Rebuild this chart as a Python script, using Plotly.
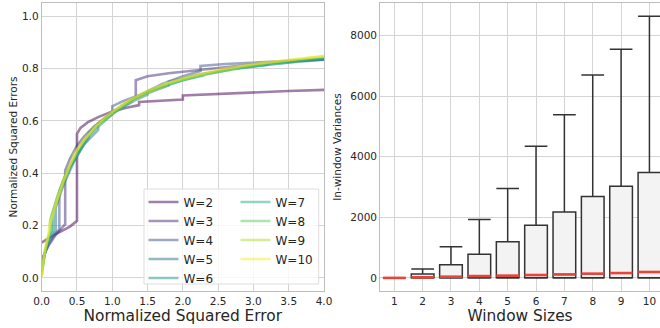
import plotly.graph_objects as go

# ---------------- data ----------------
# Left panel: cumulative curves per window size
window_labels = ["W=2", "W=3", "W=4", "W=5", "W=6", "W=7", "W=8", "W=9", "W=10"]

x_w2 = [0, 0.05, 0.1, 0.2, 0.3, 0.4, 0.5, 0.5, 0.55, 0.65, 0.8, 1.0, 1.2, 1.38, 1.38, 1.6, 2.0, 2.0, 2.5, 3.0, 3.5, 4.0]
y_w2 = [0.135, 0.145, 0.152, 0.167, 0.181, 0.196, 0.218, 0.55, 0.573, 0.594, 0.614, 0.636, 0.65, 0.66, 0.672, 0.676, 0.681, 0.697, 0.703, 0.709, 0.714, 0.718]

x_w3 = [0, 0.05, 0.1, 0.2, 0.333, 0.333, 0.4, 0.5, 0.6, 0.75, 1.0, 1.2, 1.333, 1.333, 1.5, 1.8, 2.0, 2.3, 2.7, 3.0, 3.5, 4.0]
y_w3 = [0.07, 0.1, 0.125, 0.165, 0.205, 0.41, 0.455, 0.505, 0.54, 0.58, 0.63, 0.665, 0.69, 0.755, 0.77, 0.782, 0.788, 0.797, 0.808, 0.816, 0.826, 0.834]

x_w4 = [0, 0.05, 0.1, 0.18, 0.25, 0.25, 0.35, 0.5, 0.65, 0.8, 1.0, 1.0, 1.15, 1.4, 1.7, 2.0, 2.25, 2.25, 2.6, 3.0, 3.5, 4.0]
y_w4 = [0.06, 0.1, 0.13, 0.165, 0.185, 0.33, 0.4, 0.475, 0.54, 0.585, 0.625, 0.655, 0.675, 0.7, 0.74, 0.77, 0.79, 0.81, 0.817, 0.822, 0.829, 0.835]

x_w5 = [0, 0.05, 0.1, 0.2, 0.2, 0.3, 0.45, 0.6, 0.8, 0.8, 1.0, 1.25, 1.5, 1.8, 1.8, 2.2, 2.6, 3.2, 3.2, 3.6, 4.0]
y_w5 = [0.04, 0.1, 0.14, 0.18, 0.27, 0.35, 0.44, 0.51, 0.565, 0.59, 0.635, 0.675, 0.705, 0.735, 0.75, 0.775, 0.795, 0.815, 0.822, 0.829, 0.835]

x_w6 = [0, 0.05, 0.1, 0.167, 0.167, 0.25, 0.4, 0.55, 0.667, 0.667, 0.85, 1.1, 1.3, 1.5, 1.5, 1.8, 2.2, 2.667, 2.667, 3.2, 3.6, 4.0]
y_w6 = [0.03, 0.1, 0.15, 0.18, 0.25, 0.32, 0.42, 0.49, 0.535, 0.555, 0.6, 0.645, 0.675, 0.7, 0.712, 0.74, 0.77, 0.795, 0.8, 0.815, 0.825, 0.833]

x_w7 = [0, 0.05, 0.1, 0.143, 0.143, 0.22, 0.35, 0.5, 0.571, 0.571, 0.75, 1.0, 1.286, 1.286, 1.6, 2.0, 2.286, 2.286, 2.8, 3.3, 3.571, 3.571, 4.0]
y_w7 = [0.02, 0.1, 0.155, 0.18, 0.24, 0.31, 0.4, 0.47, 0.5, 0.515, 0.565, 0.625, 0.675, 0.685, 0.72, 0.755, 0.772, 0.778, 0.8, 0.817, 0.825, 0.828, 0.838]

x_w8 = [0, 0.04, 0.08, 0.125, 0.125, 0.2, 0.3, 0.42, 0.5, 0.5, 0.7, 0.9, 1.125, 1.125, 1.4, 1.7, 2.0, 2.0, 2.5, 3.125, 3.125, 3.6, 4.0]
y_w8 = [0.01, 0.09, 0.14, 0.18, 0.225, 0.29, 0.37, 0.44, 0.475, 0.49, 0.56, 0.61, 0.65, 0.658, 0.7, 0.735, 0.758, 0.763, 0.79, 0.815, 0.818, 0.831, 0.842]

x_w9 = [0, 0.03, 0.07, 0.111, 0.111, 0.2, 0.3, 0.444, 0.444, 0.6, 0.8, 1.0, 1.0, 1.3, 1.6, 1.778, 1.778, 2.2, 2.778, 2.778, 3.3, 4.0]
y_w9 = [0.005, 0.08, 0.14, 0.18, 0.21, 0.29, 0.37, 0.46, 0.47, 0.53, 0.585, 0.628, 0.634, 0.68, 0.718, 0.738, 0.742, 0.772, 0.803, 0.806, 0.825, 0.846]

x_w10 = [0, 0.02, 0.05, 0.1, 0.1, 0.15, 0.2, 0.3, 0.4, 0.5, 0.6, 0.75, 0.9, 1.0, 1.25, 1.5, 1.75, 2.0, 2.5, 3.0, 3.5, 4.0]
y_w10 = [0, 0.06, 0.11, 0.165, 0.185, 0.235, 0.28, 0.36, 0.43, 0.485, 0.525, 0.575, 0.615, 0.635, 0.68, 0.715, 0.742, 0.763, 0.795, 0.817, 0.833, 0.848]

curve_x = [x_w2, x_w3, x_w4, x_w5, x_w6, x_w7, x_w8, x_w9, x_w10]
curve_y = [y_w2, y_w3, y_w4, y_w5, y_w6, y_w7, y_w8, y_w9, y_w10]

# Right panel: box statistics of in-window variances
window_sizes = [1, 2, 3, 4, 5, 6, 7, 8, 9, 10]
box_lower = [0, 0, 0, 0, 0, 0, 0, 0, 0, 0]
box_q1 = [0, 5, 5, 5, 5, 5, 5, 5, 5, 5]
box_median = [0, 20, 40, 60, 75, 95, 115, 140, 160, 195]
box_q3 = [0, 130, 430, 780, 1195, 1735, 2170, 2685, 3025, 3475]
box_upper = [0, 290, 1030, 1930, 2950, 4340, 5380, 6695, 7540, 8635]

x_ticks_left = [0, 0.5, 1.0, 1.5, 2.0, 2.5, 3.0, 3.5, 4.0]
y_ticks_left = [0, 0.2, 0.4, 0.6, 0.8, 1.0]
y_ticks_right = [0, 2000, 4000, 6000, 8000]

# ---------------- style ----------------
colors = ["#440154", "#472c7a", "#3b528b", "#2c728e", "#21918c",
          "#28ae80", "#5ec962", "#addc30", "#fde725"]
FONT = "DejaVu Sans"
GRID = "#d4d4d4"
SPINE = "#bdbdbd"
TXT = "#262626"

# plot area spans y pixels 3..291 (height 288)
def py(pix):
    return (291 - pix) / 288

fig = go.Figure()

for i, lab in enumerate(window_labels):
    fig.add_trace(go.Scatter(
        x=curve_x[i], y=curve_y[i], mode="lines", name=lab,
        line=dict(color=colors[i], width=2.6), opacity=0.5,
        legend="legend" if i < 5 else "legend2",
        xaxis="x", yaxis="y"))

fig.add_trace(go.Box(
    x=window_sizes, q1=box_q1, median=box_median, q3=box_q3,
    lowerfence=box_lower, upperfence=box_upper,
    width=0.8, whiskerwidth=1, boxpoints=False,
    fillcolor="#f3f3f3", line=dict(color="#333333", width=1.5),
    showlegend=False, xaxis="x2", yaxis="y2"))

# red median lines across each box
mx, my = [], []
for p, m in zip(window_sizes, box_median):
    mx += [p - 0.4, p + 0.4, None]
    my += [m, m, None]
fig.add_trace(go.Scatter(x=mx, y=my, mode="lines",
                         line=dict(color="#e8443a", width=2.6),
                         showlegend=False, xaxis="x2", yaxis="y2"))

axis_common = dict(showgrid=True, gridcolor=GRID, gridwidth=1,
                   showline=True, linecolor=SPINE, linewidth=1, mirror=True,
                   zeroline=False, ticks="", automargin=False,
                   tickfont=dict(family=FONT, size=10.5, color=TXT))

legend_common = dict(orientation="v", xanchor="left", yanchor="top",
                     bgcolor="rgba(0,0,0,0)", borderwidth=0,
                     font=dict(family=FONT, size=12, color=TXT), traceorder="normal")

fig.update_layout(
    width=660, height=328,
    margin=dict(l=0, r=0, t=3, b=37),
    paper_bgcolor="white", plot_bgcolor="white",
    font=dict(family=FONT, color=TXT),
    xaxis=dict(domain=[41.7/660, 324/660], range=[0, 4],
               tickvals=x_ticks_left, tickformat=".1f",
               title=dict(text="Normalized Squared Error", font=dict(size=15.4), standoff=0),
               anchor="y", **axis_common),
    yaxis=dict(domain=[0, 1], range=[-0.05, 1.05], tickvals=y_ticks_left,
               tickformat=".1f",
               title=dict(text="Normalized Squared Errors", font=dict(size=10.5), standoff=2),
               anchor="x", **axis_common),
    xaxis2=dict(domain=[380.1/660, 1], range=[0.5, 10.373],
                tickvals=window_sizes,
                title=dict(text="Window Sizes", font=dict(size=15.4), standoff=0),
                anchor="y2", **axis_common),
    yaxis2=dict(domain=[0, 1], range=[-432, 9068], tickvals=y_ticks_right,
                title=dict(text="In-window Variances", font=dict(size=10.5), standoff=6),
                anchor="x2", **axis_common),
    legend=dict(x=143.5/660, y=py(187.5), **legend_common),
    legend2=dict(x=235.5/660, y=py(187.5), **legend_common),
    shapes=[dict(type="rect", xref="paper", yref="paper", layer="above",
                 x0=144/660, x1=318.7/660, y0=py(284), y1=py(189),
                 fillcolor="rgba(255,255,255,0.8)", line=dict(color="#dddddd", width=1))],
    showlegend=True,
)

fig.write_html("out.html")
